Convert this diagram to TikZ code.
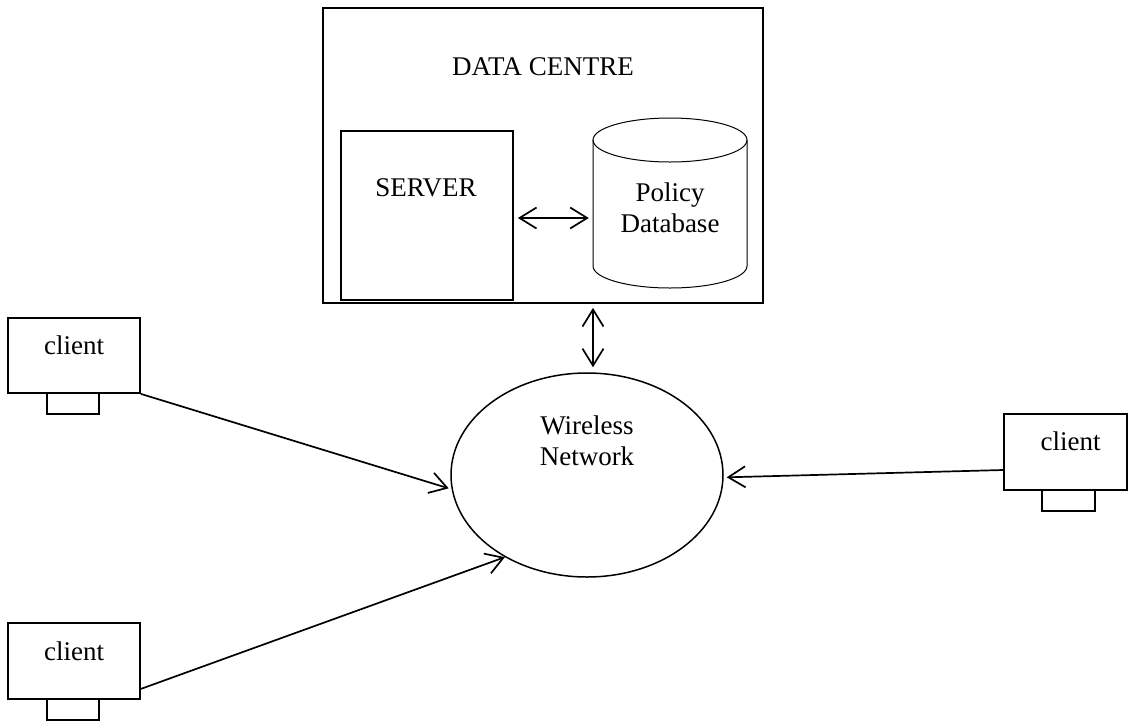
\documentclass[tikz,border=0pt]{standalone}
\usepackage{fontspec}
\setmainfont{Liberation Serif}
\usetikzlibrary{arrows.meta,shapes.geometric}
\begin{document}
\begin{tikzpicture}[x=1pt,y=1pt,
  box/.style={draw, line width=1.8pt, inner sep=0pt},
  lbl/.style={font=\fontsize{27}{30.5}\selectfont, inner sep=0pt, align=center},
  barb/.tip={Straight Barb[length=17pt,width=21pt]},
  arr/.style={line width=1.7pt, -barb},
  dbl/.style={line width=1.7pt, barb-barb},
]
\useasboundingbox (0,0) rectangle (1128,-721);
% data centre
\node[box, minimum width=440pt, minimum height=295pt] (dc) at (543,-155.5) {};
\node[lbl] (dct) at (543,-67) {DATA CENTRE};
\node[box, minimum width=172pt, minimum height=169pt] (srv) at (427,-215.5) {};
\node[lbl] (srvt) at (426,-188) {SERVER};
% database cylinder
\node[minimum width=154pt, minimum height=170pt, inner sep=0pt] (db) at (670,-203) {};
\draw[line width=1pt] (593,-140) -- (593,-266) arc[start angle=180, end angle=360, x radius=77, y radius=22] -- (747,-140);
\draw[line width=1pt] (670,-140) ellipse[x radius=77, y radius=22];
\node[lbl] (dbt) at (670,-208) {Policy\\Database};
\draw[dbl] ([xshift=4pt,yshift=-2.5pt]srv.east) -- ([xshift=-4pt,yshift=-15pt]db.west);
% network
\node[draw, ellipse, line width=1.5pt, minimum width=272pt, minimum height=204pt, inner sep=0pt] (net) at (587,-475) {};
\node[lbl] (nett) at (587,-441) {Wireless\\Network};
\draw[dbl] ([xshift=50pt,yshift=-4pt]dc.south) -- ([xshift=6pt,yshift=5pt]net.north);
% clients
\node[box, minimum width=132pt, minimum height=75pt] (c1) at (74,-355.5) {};
\node[lbl] (c1t) at (74,-345) {client};
\node[box, minimum width=52pt, minimum height=21pt] (s1) at (73,-403.5) {};
\node[box, minimum width=123pt, minimum height=76pt] (c2) at (1065.5,-452) {};
\node[lbl] (c2t) at (1070.5,-441.5) {client};
\node[box, minimum width=53pt, minimum height=21pt] (s2) at (1068.5,-500.5) {};
\node[box, minimum width=132pt, minimum height=76pt] (c3) at (74,-661) {};
\node[lbl] (c3t) at (74,-651) {client};
\node[box, minimum width=52pt, minimum height=21pt] (s3) at (73,-709.5) {};
% connectors
\draw[arr, shorten >=3pt] (c1.south east) -- (net.186);
\draw[arr] ([yshift=11pt]c3.south east) -- (net.225);
\draw[arr, shorten >=3pt] ([yshift=-18pt]c2.west) -- (net.359);
\end{tikzpicture}
\end{document}
